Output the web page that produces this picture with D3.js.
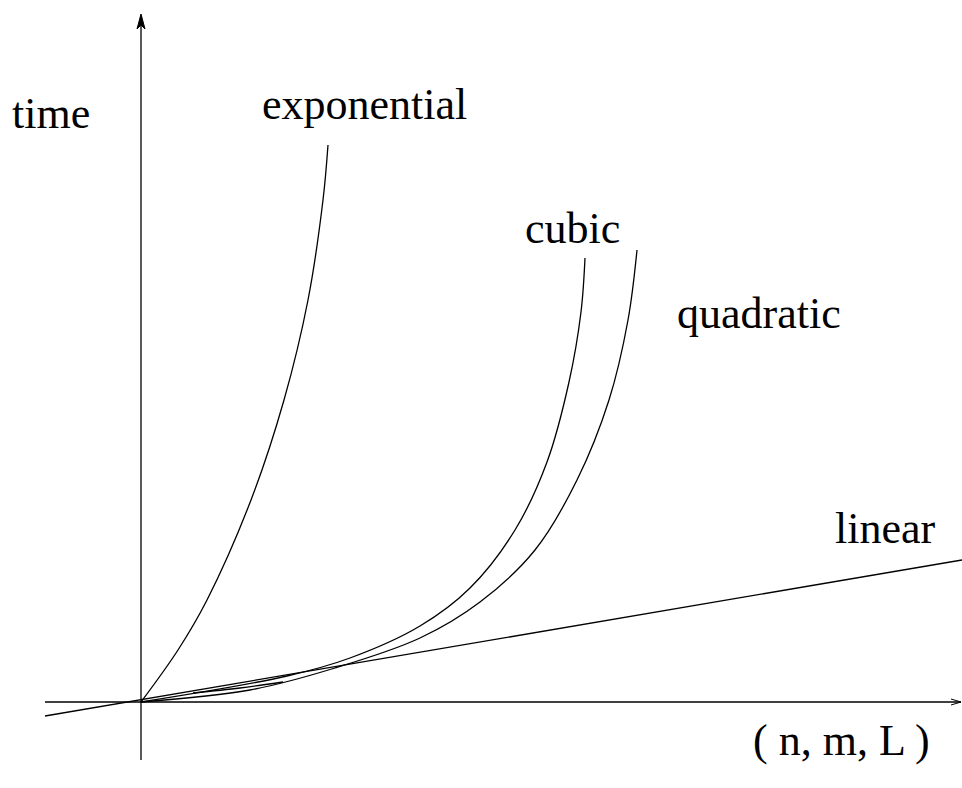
<!DOCTYPE html>
<html>
<head>
<meta charset="utf-8">
<script src="https://cdn.jsdelivr.net/npm/d3@7"></script>
<style>
  html, body { margin: 0; padding: 0; background: #fff; }
  svg { display: block; }
  text { font-family: "Liberation Serif", "Times New Roman", serif; fill: #000; }
</style>
</head>
<body>
<div id="chart"></div>
<script>
// growth curves, in axis units measured from the origin (x right, y up)
const exponentialPts = [[0, 0], [37, 52], [66, 102], [110, 202], [143, 302], [167, 402], [182, 502], [187, 557]];
const cubicPts = [[0, 0], [146, 26], [209, 44], [279, 76], [329, 114], [374, 172], [406, 240], [428, 320], [440, 390], [444, 444]];
const quadraticPts = [[0, 0], [109, 12], [194, 34], [279, 64], [339, 100], [394, 152], [436, 222], [468, 302], [487, 382], [496, 452]];
const strayPts = [[52, 9], [99, 14], [142, 20]];
const linearPts = [[-96, -14], [821, 142]];

const labels = [
  { text: 'time', x: -129, y: 574 },
  { text: 'exponential', x: 121, y: 583 },
  { text: 'cubic', x: 384, y: 459 },
  { text: 'quadratic', x: 536, y: 374 },
  { text: 'linear', x: 694, y: 159 },
  { text: '( n, m, L )', x: 612, y: -53 }
];

const width = 962;
const height = 788;

const x = d3.scaleLinear().domain([-96, 821]).range([45, 962]);
const y = d3.scaleLinear().domain([-58, 702]).range([760, 0]);

const svg = d3.select('#chart')
  .append('svg')
  .attr('width', width)
  .attr('height', height);

// axes
svg.append('line')
  .attr('x1', x(-96)).attr('x2', x(820))
  .attr('y1', y(0)).attr('y2', y(0))
  .attr('stroke', '#000').attr('stroke-width', 1.3);

svg.append('path')
  .attr('d', `M${x(810)},${y(3)} L${x(820)},${y(0)} L${x(810)},${y(-3)}`)
  .attr('fill', 'none').attr('stroke', '#000').attr('stroke-width', 1);

svg.append('line')
  .attr('x1', x(0)).attr('x2', x(0))
  .attr('y1', y(-58)).attr('y2', y(686))
  .attr('stroke', '#000').attr('stroke-width', 1.3);

svg.append('path')
  .attr('d', `M${x(-4)},${y(673)} L${x(0)},${y(688)} L${x(4)},${y(673)} L${x(0)},${y(677)} Z`)
  .attr('fill', '#000').attr('stroke', '#000').attr('stroke-width', 1);

// curves
const line = d3.line()
  .x((d) => x(d[0]))
  .y((d) => y(d[1]))
  .curve(d3.curveCatmullRom.alpha(0.5));

[exponentialPts, cubicPts, quadraticPts, strayPts, linearPts].forEach((pts) => {
  svg.append('path')
    .datum(pts)
    .attr('fill', 'none')
    .attr('stroke', '#000')
    .attr('stroke-width', 1.3)
    .attr('d', line);
});

svg.selectAll('text.label')
  .data(labels)
  .join('text')
  .attr('class', 'label')
  .attr('x', (d) => x(d.x))
  .attr('y', (d) => y(d.y))
  .attr('font-size', 44)
  .text((d) => d.text);
</script>
</body>
</html>
